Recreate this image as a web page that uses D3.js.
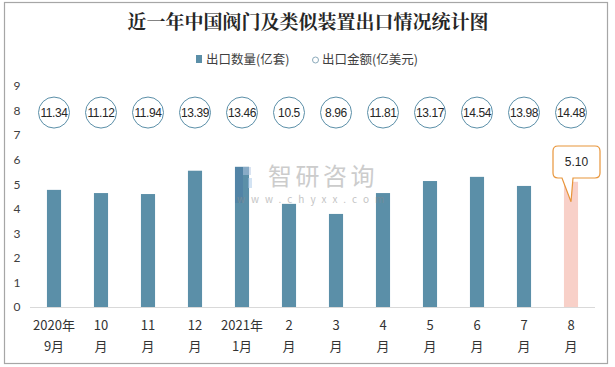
<!DOCTYPE html>
<html><head><meta charset="utf-8">
<script src="https://cdn.jsdelivr.net/npm/d3@7/dist/d3.min.js"></script>
<style>body{margin:0;background:#fff}svg{display:block}text{font-family:"Noto Sans CJK SC","Microsoft YaHei",sans-serif}</style>
</head><body>
<script>
const categories1 = ["2020年","10","11","12","2021年","2","3","4","5","6","7","8"];
const categories2 = ["9月","月","月","月","1月","月","月","月","月","月","月","月"];
const quantity = [4.77,4.64,4.60,5.55,5.71,4.20,3.79,4.64,5.13,5.30,4.93,5.10];
const amount = ["11.34","11.12","11.94","13.39","13.46","10.5","8.96","11.81","13.17","14.54","13.98","14.48"];
const yTicks = [0,1,2,3,4,5,6,7,8,9];
const bubbleLevel = 8;
const title = "近一年中国阀门及类似装置出口情况统计图";
const legendNames = ["出口数量(亿套)","出口金额(亿美元)"];

const W=615,H=367;
const svg=d3.select("body").append("svg").attr("width",W).attr("height",H);
svg.append("rect").attr("x",4.5).attr("y",2.5).attr("width",603).attr("height",361).attr("fill","#fff").attr("stroke","#a6a6a6").attr("stroke-width",1.2);

const x=d3.scaleBand().domain(d3.range(categories1.length)).range([30.5,594.5]).paddingInner(0.7).paddingOuter(0.35);
const y=d3.scaleLinear().domain([0,9]).range([307,86]);

// title
svg.append("text").attr("x",308).attr("y",29).attr("text-anchor","middle").attr("font-size",19).attr("font-weight","bold").attr("fill","#262626")
  .style("font-family",'"Noto Serif CJK SC","Noto Sans CJK SC",serif').text(title);

// legend
const lg=svg.append("g").attr("font-size",12.5).attr("fill","#404040");
lg.append("rect").attr("x",196).attr("y",55).attr("width",6).attr("height",8).attr("fill","#5b8fa8");
lg.append("text").attr("x",206).attr("y",64).attr("fill","#404040").text(legendNames[0]);
lg.append("circle").attr("cx",315.5).attr("cy",60).attr("r",3).attr("fill","#fff").attr("stroke","#8aa9ba").attr("stroke-width",1);
lg.append("text").attr("x",322).attr("y",64).attr("fill","#404040").text(legendNames[1]);

// y axis labels
const ya=svg.append("g").attr("transform","translate(19,0)").call(d3.axisLeft(y).tickValues(yTicks).tickSize(0).tickPadding(0).tickFormat(d3.format("d")));
ya.select(".domain").remove();
ya.selectAll("text").attr("font-size",12).attr("fill","#404040").attr("text-anchor","middle").attr("dx",-2).style("font-family","Lato, sans-serif");

// bars
svg.append("g").selectAll("rect").data(quantity).join("rect")
  .attr("x",(d,i)=>x(i)).attr("width",x.bandwidth()).attr("y",d=>y(d)).attr("height",d=>y(0)-y(d))
  .attr("fill",(d,i)=>i===quantity.length-1?"#f8d0c8":"#5b8fa8");

// watermark (drawn over bars, translucent)
const wm=svg.append("g").attr("opacity",0.5);
wm.append("rect").attr("x",235).attr("y",167).attr("width",8).attr("height",36).attr("fill","#4a7aa6");
wm.append("rect").attr("x",243).attr("y",167).attr("width",8).attr("height",8).attr("fill","#b5c8e4");
wm.append("rect").attr("x",248).attr("y",178).attr("width",4).attr("height",10).attr("fill","#a8c8e8");
wm.append("text").attr("x",268).attr("y",185).attr("font-size",24).attr("fill","#9a9a9a").attr("letter-spacing",3.5).text("智研咨询");
wm.append("text").attr("x",237).attr("y",203).attr("font-size",10).attr("fill","#8a8a8a").attr("letter-spacing",6).text("www.chyxx.com");

// x axis line
svg.append("line").attr("x1",30).attr("x2",595).attr("y1",307.5).attr("y2",307.5).attr("stroke","#d9d9d9").attr("stroke-width",1);

// x labels
const xl=svg.append("g").attr("font-size",13).attr("fill","#333");
categories1.forEach((c,i)=>{
  const cx=x(i)+x.bandwidth()/2;
  xl.append("text").attr("x",cx).attr("y",330).attr("text-anchor","middle").attr("fill","#333").text(c);
  xl.append("text").attr("x",cx).attr("y",351).attr("text-anchor","middle").attr("fill","#333").text(categories2[i]);
});

// bubbles
const bg=svg.append("g");
amount.forEach((a,i)=>{
  const cx=x(i)+x.bandwidth()/2;
  bg.append("circle").attr("cx",cx).attr("cy",y(bubbleLevel)+2).attr("r",15.5).attr("fill","#fff").attr("stroke","#5b8fa8").attr("stroke-width",1);
  bg.append("text").attr("x",cx).attr("y",y(bubbleLevel)+6.5).attr("text-anchor","middle").attr("font-size",12).attr("fill","#262626")
    .style("font-family","'Liberation Sans', Arial, sans-serif").attr("letter-spacing",-0.4).text(a);
});

// callout for last bar
const li=quantity.length-1, lx=x(li)+x.bandwidth()/2, tipY=y(quantity[li])+20;
const rx0=553, rx1=600, ry0=146, ry1=178, r=5, b0=562, b1=573;
const p=`M${rx0+r},${ry0} H${rx1-r} Q${rx1},${ry0} ${rx1},${ry0+r} V${ry1-r} Q${rx1},${ry1} ${rx1-r},${ry1} H${b1} L${lx},${tipY} L${b0},${ry1} H${rx0+r} Q${rx0},${ry1} ${rx0},${ry1-r} V${ry0+r} Q${rx0},${ry0} ${rx0+r},${ry0} Z`;
svg.append("path").attr("d",p).attr("fill","#fff").attr("stroke","#e8953a").attr("stroke-width",1.2);
svg.append("text").attr("x",(rx0+rx1)/2).attr("y",166).attr("text-anchor","middle").attr("font-size",12).attr("fill","#262626")
  .style("font-family","'Liberation Sans', Arial, sans-serif").text(quantity[li].toFixed(2));
</script>
</body></html>
